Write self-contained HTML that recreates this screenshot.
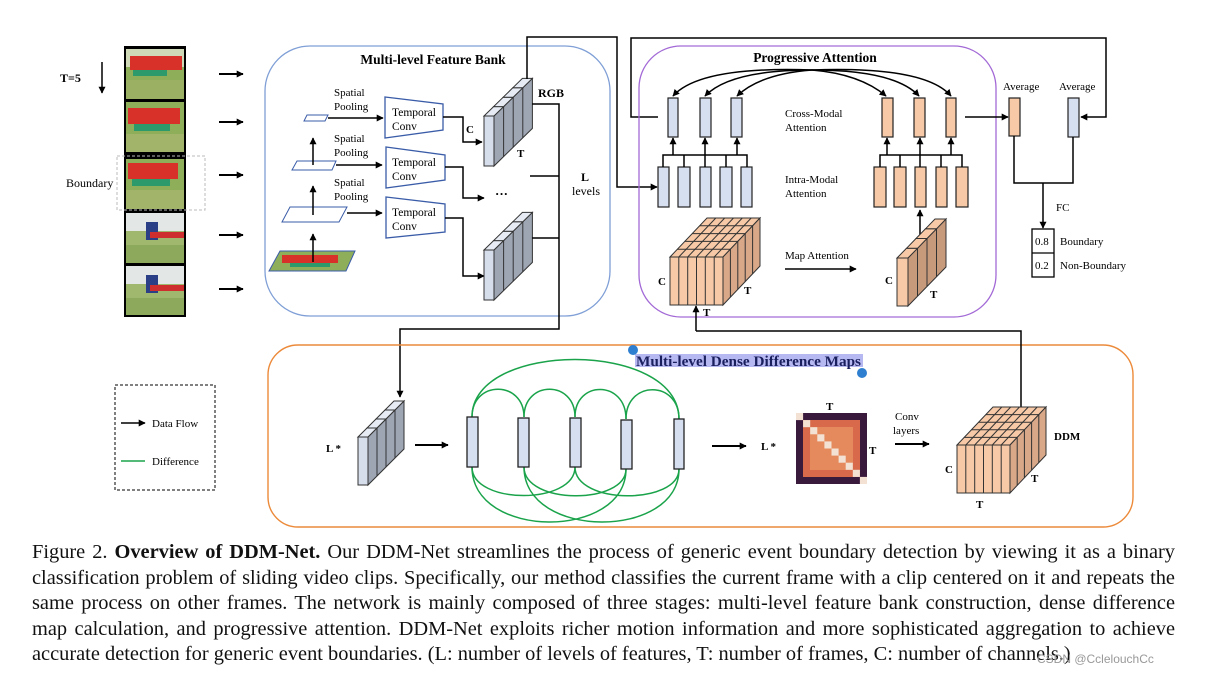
<!DOCTYPE html>
<html><head><meta charset="utf-8"><style>
body{margin:0;background:#fff;}
#w{position:relative;width:1206px;height:676px;overflow:hidden;background:#fff;}
svg{position:absolute;left:0;top:0;}
svg text{font-family:"Liberation Serif",serif;}
.cap{position:absolute;left:32px;width:1143px;font-family:"Liberation Serif",serif;font-size:20.4px;line-height:24px;color:#111;text-align:justify;text-align-last:justify;white-space:nowrap;}
.cap.l{text-align-last:left;}
</style></head><body><div id="w">
<svg width="1206" height="676" viewBox="0 0 1206 676">
<defs>
<marker id="a" viewBox="0 0 10 10" refX="9" refY="5" markerWidth="7" markerHeight="7" markerUnits="userSpaceOnUse" orient="auto"><path d="M0,0L10,5L0,10z" fill="#000"/></marker>
</defs>

<!-- frames -->
<rect x="124" y="46" width="62" height="271" fill="#000"/>
<g>
<rect x="126" y="49" width="58" height="50" fill="#8fae5a"/><rect x="126" y="49" width="58" height="18" fill="#cfd9b8"/><rect x="130" y="56" width="52" height="14" fill="#d8312a"/><rect x="133" y="70" width="34" height="6" fill="#2c9a6a"/><rect x="126" y="80" width="58" height="19" fill="#9cb064"/>
<rect x="126" y="102" width="58" height="50" fill="#8fae5a"/><rect x="128" y="108" width="52" height="16" fill="#d8312a"/><rect x="134" y="124" width="36" height="7" fill="#2c9a6a"/><rect x="126" y="134" width="58" height="18" fill="#a2b46a"/>
<rect x="126" y="159" width="58" height="50" fill="#8fae5a"/><rect x="128" y="163" width="50" height="16" fill="#d8312a"/><rect x="132" y="179" width="38" height="7" fill="#2c9a6a"/><rect x="126" y="190" width="58" height="19" fill="#a2b46a"/>
<rect x="126" y="213" width="58" height="50" fill="#9fb86e"/><rect x="126" y="213" width="58" height="18" fill="#e3e8e6"/><rect x="146" y="222" width="12" height="18" fill="#2a3f86"/><rect x="150" y="232" width="34" height="6" fill="#cf2e2e"/><rect x="126" y="245" width="58" height="18" fill="#8daa5c"/>
<rect x="126" y="266" width="58" height="49" fill="#9fb86e"/><rect x="126" y="266" width="58" height="18" fill="#e3e8e6"/><rect x="146" y="275" width="12" height="18" fill="#2a3f86"/><rect x="150" y="285" width="34" height="6" fill="#cf2e2e"/><rect x="126" y="298" width="58" height="17" fill="#8daa5c"/>
</g>
<rect x="117" y="156" width="88" height="54" fill="none" stroke="#bbb" stroke-dasharray="3,2"/>
<text x="60" y="82" font-size="12" font-weight="bold">T=5</text>
<line x1="102" y1="62" x2="102" y2="93" stroke="#000" stroke-width="1.5" marker-end="url(#a)"/>
<text x="66" y="187" font-size="12">Boundary</text>
<g stroke="#000" stroke-width="2" marker-end="url(#a)">
<line x1="219" y1="74" x2="243" y2="74"/><line x1="219" y1="122" x2="243" y2="122"/><line x1="219" y1="175" x2="243" y2="175"/><line x1="219" y1="235" x2="243" y2="235"/><line x1="219" y1="289" x2="243" y2="289"/>
</g>

<!-- feature bank -->
<rect x="265" y="46" width="345" height="270" rx="45" fill="none" stroke="#7f9fd6" stroke-width="1.3"/>
<text x="433" y="64" font-size="13.5" font-weight="bold" text-anchor="middle">Multi-level Feature Bank</text>
<g fill="#fff" stroke="#3a5ca8" stroke-width="1">
<polygon points="307,115 328,115 325,121 304,121"/>
<polygon points="297,161 336,161 332,170 292,170"/>
<polygon points="290,207 347,207 339,222 282,222"/>
</g>
<polygon points="280,251 355,251 346,271 269,271" fill="#8fae5a" stroke="#3a5ca8"/>
<rect x="282" y="255" width="56" height="8" fill="#d8312a"/><rect x="290" y="263" width="40" height="4" fill="#2c9a6a"/>
<g stroke="#000" stroke-width="1.5" marker-end="url(#a)">
<line x1="313" y1="262" x2="313" y2="234"/><line x1="313" y1="215" x2="313" y2="186"/><line x1="313" y1="165" x2="313" y2="138"/>
<line x1="328" y1="118" x2="383" y2="118"/><line x1="336" y1="165" x2="382" y2="165"/><line x1="347" y1="213" x2="382" y2="213"/>
</g>
<g font-size="11"><text x="334" y="96">Spatial</text><text x="334" y="110">Pooling</text><text x="334" y="142">Spatial</text><text x="334" y="156">Pooling</text><text x="334" y="186">Spatial</text><text x="334" y="200">Pooling</text></g>
<g fill="#fff" stroke="#3a5ca8" stroke-width="1.3">
<polygon points="385,97 443,104 443,130 385,138"/>
<polygon points="386,147 445,155 445,180 386,188"/>
<polygon points="386,197 445,204 445,232 386,238"/>
</g>
<g font-size="11.5"><text x="392" y="116">Temporal</text><text x="392" y="130">Conv</text><text x="392" y="166">Temporal</text><text x="392" y="180">Conv</text><text x="392" y="216">Temporal</text><text x="392" y="230">Conv</text></g>
<g fill="none" stroke="#000" stroke-width="1.5">
<polyline points="443,117 463,117 463,142 482,142" marker-end="url(#a)"/>
<polyline points="445,167 463,167 463,198 484,198" marker-end="url(#a)"/>
<polyline points="445,218 463,218 463,276 484,276" marker-end="url(#a)"/>
</g>
<text x="466" y="133" font-size="11" font-weight="bold">C</text>
<text x="495" y="198" font-size="13" font-weight="bold">···</text>
<!-- RGB stack -->
<g stroke="#333" stroke-width="1">
<polygon points="494,116 532.4,78.4 532.4,128.4 494,166" fill="#9ea6b4"/>
<line x1="503.6" y1="106.6" x2="503.6" y2="156.6"/><line x1="513.2" y1="97.2" x2="513.2" y2="147.2"/><line x1="522.8" y1="87.8" x2="522.8" y2="137.8"/>
<rect x="484" y="116" width="10" height="50" fill="#d7deeb"/>
<polygon points="484,116 493.6,106.6 503.6,106.6 494,116" fill="#e6ebf4"/>
<polygon points="493.6,106.6 503.2,97.2 513.2,97.2 503.6,106.6" fill="#e6ebf4"/>
<polygon points="503.2,97.2 512.8,87.8 522.8,87.8 513.2,97.2" fill="#e6ebf4"/>
<polygon points="512.8,87.8 522.4,78.4 532.4,78.4 522.8,87.8" fill="#e6ebf4"/>
</g>
<!-- second stack -->
<g stroke="#333" stroke-width="1">
<polygon points="494,250 532.4,212.4 532.4,262.4 494,300" fill="#9ea6b4"/>
<line x1="503.6" y1="240.6" x2="503.6" y2="290.6"/><line x1="513.2" y1="231.2" x2="513.2" y2="281.2"/><line x1="522.8" y1="221.8" x2="522.8" y2="271.8"/>
<rect x="484" y="250" width="10" height="50" fill="#d7deeb"/>
<polygon points="484,250 493.6,240.6 503.6,240.6 494,250" fill="#e6ebf4"/>
<polygon points="493.6,240.6 503.2,231.2 513.2,231.2 503.6,240.6" fill="#e6ebf4"/>
<polygon points="503.2,231.2 512.8,221.8 522.8,221.8 513.2,231.2" fill="#e6ebf4"/>
<polygon points="512.8,221.8 522.4,212.4 532.4,212.4 522.8,221.8" fill="#e6ebf4"/>
</g>
<text x="517" y="157" font-size="11" font-weight="bold">T</text>
<text x="538" y="97" font-size="12" font-weight="bold">RGB</text>
<text x="581" y="181" font-size="12" font-weight="bold">L</text>
<text x="572" y="195" font-size="12">levels</text>
<g fill="none" stroke="#000" stroke-width="1.5">
<polyline points="532,104 559,104 559,329 400,329 400,397" marker-end="url(#a)"/>
<line x1="530" y1="176" x2="559" y2="176"/>
<line x1="532" y1="238" x2="559" y2="238"/>
<polyline points="527,79 527,37 617,37 617,187 657,187" marker-end="url(#a)"/>
<polyline points="658,117 631,117 631,38 1106,38 1106,117 1081,117" marker-end="url(#a)"/>
</g>

<!-- progressive attention -->
<rect x="639" y="46" width="357" height="271" rx="42" fill="none" stroke="#a36ad6" stroke-width="1.3"/>
<text x="815" y="62" font-size="13.5" font-weight="bold" text-anchor="middle">Progressive Attention</text>
<g fill="none" stroke="#000" stroke-width="1.5" marker-end="url(#a)">
<path d="M812,70 Q700,66 673,96"/><path d="M812,70 Q730,70 705,96"/><path d="M812,70 Q760,74 737,96"/>
<path d="M812,70 Q860,74 886,96"/><path d="M812,70 Q895,70 919,96"/><path d="M812,70 Q925,66 951,96"/>
</g>
<g stroke="#222" stroke-width="1.2" fill="#d6dff0">
<rect x="668" y="98" width="10" height="39"/><rect x="700" y="98" width="11" height="39"/><rect x="731" y="98" width="11" height="39"/>
<rect x="658" y="167" width="11" height="40"/><rect x="678" y="167" width="12" height="40"/><rect x="700" y="167" width="11" height="40"/><rect x="720" y="167" width="12" height="40"/><rect x="741" y="167" width="11" height="40"/>
<rect x="1068" y="98" width="11" height="39"/>
</g>
<g stroke="#222" stroke-width="1.2" fill="#f7c9a6">
<rect x="882" y="98" width="11" height="39"/><rect x="914" y="98" width="11" height="39"/><rect x="946" y="98" width="10" height="39"/>
<rect x="874" y="167" width="12" height="40"/><rect x="894" y="167" width="12" height="40"/><rect x="915" y="167" width="11" height="40"/><rect x="936" y="167" width="11" height="40"/><rect x="956" y="167" width="12" height="40"/>
<rect x="1009" y="98" width="11" height="38"/>
</g>
<g fill="none" stroke="#000" stroke-width="1.5">
<polyline points="663,167 663,155 747,155 747,167"/><line x1="684" y1="155" x2="684" y2="167"/><line x1="705" y1="155" x2="705" y2="167"/><line x1="726" y1="155" x2="726" y2="167"/>
<polyline points="880,167 880,155 962,155 962,167"/><line x1="900" y1="155" x2="900" y2="167"/><line x1="920" y1="155" x2="920" y2="167"/><line x1="941" y1="155" x2="941" y2="167"/>
</g>
<g stroke="#000" stroke-width="1.5" marker-end="url(#a)">
<line x1="673" y1="155" x2="673" y2="138"/><line x1="705" y1="155" x2="705" y2="138"/><line x1="737" y1="155" x2="737" y2="138"/>
<line x1="887" y1="155" x2="887" y2="138"/><line x1="920" y1="155" x2="920" y2="138"/><line x1="951" y1="155" x2="951" y2="138"/>
<line x1="965" y1="117" x2="1008" y2="117"/>
<line x1="785" y1="269" x2="856" y2="269"/>
<line x1="920" y1="238" x2="920" y2="210"/>
<line x1="696" y1="331" x2="696" y2="306"/>
</g>
<g font-size="11"><text x="785" y="117">Cross-Modal</text><text x="785" y="131">Attention</text><text x="785" y="183">Intra-Modal</text><text x="785" y="197">Attention</text><text x="785" y="259">Map Attention</text></g>
<!-- big cube -->
<g stroke="#333" stroke-width="1">
<polygon points="670,257 707,218 760,218 723,257" fill="#f7c9a6"/>
<polygon points="723,257 760,218 760,266 723,305" fill="#d9a889"/>
<rect x="670" y="257" width="53" height="48" fill="#f7c9a6"/>
<line x1="678.8" y1="257" x2="715.8" y2="218"/><line x1="687.7" y1="257" x2="724.7" y2="218"/><line x1="696.5" y1="257" x2="733.5" y2="218"/><line x1="705.3" y1="257" x2="742.3" y2="218"/><line x1="714.2" y1="257" x2="751.2" y2="218"/>
<line x1="677.4" y1="249.2" x2="730.4" y2="249.2"/><line x1="684.8" y1="241.4" x2="737.8" y2="241.4"/><line x1="692.2" y1="233.6" x2="745.2" y2="233.6"/><line x1="699.6" y1="225.8" x2="752.6" y2="225.8"/>
<line x1="730.4" y1="249.2" x2="730.4" y2="297.2"/><line x1="737.8" y1="241.4" x2="737.8" y2="289.4"/><line x1="745.2" y1="233.6" x2="745.2" y2="281.6"/><line x1="752.6" y1="225.8" x2="752.6" y2="273.8"/>
<line x1="678.8" y1="257" x2="678.8" y2="305"/><line x1="687.7" y1="257" x2="687.7" y2="305"/><line x1="696.5" y1="257" x2="696.5" y2="305"/><line x1="705.3" y1="257" x2="705.3" y2="305"/><line x1="714.2" y1="257" x2="714.2" y2="305"/>
</g>
<g font-size="11" font-weight="bold"><text x="658" y="285">C</text><text x="744" y="294">T</text><text x="703" y="316">T</text><text x="885" y="284">C</text><text x="930" y="298">T</text></g>
<!-- small orange stack -->
<g stroke="#333" stroke-width="1">
<polygon points="908,258 946,219 946,267 908,306" fill="#c89a7c"/>
<line x1="917.5" y1="248.3" x2="917.5" y2="296.3"/><line x1="927" y1="238.5" x2="927" y2="286.5"/><line x1="936.5" y1="228.8" x2="936.5" y2="276.8"/>
<rect x="897" y="258" width="11" height="48" fill="#f7c9a6"/>
<polygon points="897,258 906.5,248.3 917.5,248.3 908,258" fill="#f7c9a6"/>
<polygon points="906.5,248.3 916,238.5 927,238.5 917.5,248.3" fill="#f7c9a6"/>
<polygon points="916,238.5 925.5,228.8 936.5,228.8 927,238.5" fill="#f7c9a6"/>
<polygon points="925.5,228.8 935,219 946,219 936.5,228.8" fill="#f7c9a6"/>
</g>
<text x="1003" y="90" font-size="11">Average</text><text x="1059" y="90" font-size="11">Average</text>
<g fill="none" stroke="#000" stroke-width="1.5">
<polyline points="1014,136 1014,183 1073,183 1073,137"/>
<line x1="1043" y1="183" x2="1043" y2="228" marker-end="url(#a)"/>
</g>
<text x="1056" y="211" font-size="11">FC</text>
<rect x="1032" y="229" width="22" height="48" fill="#fff" stroke="#000" stroke-width="1.3"/>
<line x1="1032" y1="253" x2="1054" y2="253" stroke="#000" stroke-width="1.3"/>
<g font-size="11"><text x="1035" y="245">0.8</text><text x="1035" y="269">0.2</text><text x="1060" y="245">Boundary</text><text x="1060" y="269">Non-Boundary</text></g>

<!-- DDM section -->
<rect x="268" y="345" width="865" height="182" rx="30" fill="none" stroke="#ec8a3a" stroke-width="1.4"/>
<polyline points="696,331 1021,331 1021,408" fill="none" stroke="#000" stroke-width="1.5"/>
<rect x="635" y="354" width="228" height="13" fill="#b6b8f2"/>
<text x="636" y="366" font-size="14.6" font-weight="bold" fill="#1a1f5e" textLength="225" lengthAdjust="spacingAndGlyphs">Multi-level Dense Difference Maps</text>
<circle cx="633" cy="350" r="5" fill="#2f7fd0"/><circle cx="862" cy="373" r="5" fill="#2f7fd0"/>
<!-- L* stack -->
<g stroke="#333" stroke-width="1">
<polygon points="368,437 404,401 404,449 368,485" fill="#9ea6b4"/>
<line x1="377" y1="428" x2="377" y2="476"/><line x1="386" y1="419" x2="386" y2="467"/><line x1="395" y1="410" x2="395" y2="458"/>
<rect x="358" y="437" width="10" height="48" fill="#d7deeb"/>
<polygon points="358,437 367,428 377,428 368,437" fill="#e6ebf4"/>
<polygon points="367,428 376,419 386,419 377,428" fill="#e6ebf4"/>
<polygon points="376,419 385,410 395,410 386,419" fill="#e6ebf4"/>
<polygon points="385,410 394,401 404,401 395,410" fill="#e6ebf4"/>
</g>
<text x="326" y="452" font-size="11" font-weight="bold">L *</text>
<g stroke="#000" stroke-width="2" marker-end="url(#a)">
<line x1="415" y1="445" x2="448" y2="445"/><line x1="712" y1="446" x2="746" y2="446"/><line x1="895" y1="444" x2="929" y2="444"/>
</g>
<g fill="none" stroke="#1aa34a" stroke-width="1.5">
<path d="M472,417 C472,340 679,340 679,419"/>
<path d="M472,417 C472,380 524,380 524,417"/><path d="M524,417 C524,380 575,380 575,417"/><path d="M575,417 C575,380 626,380 626,419"/><path d="M626,419 C626,380 679,380 679,419"/>
<path d="M472,467 C472,505 575,505 575,467"/><path d="M524,467 C524,505 626,505 626,469"/><path d="M575,467 C575,505 679,505 679,469"/>
<path d="M472,467 C472,540 626,540 626,469"/><path d="M524,467 C524,540 679,540 679,469"/>
</g>
<g stroke="#222" stroke-width="1.3" fill="#d6dff0">
<rect x="467" y="417" width="11" height="50"/><rect x="518" y="418" width="11" height="49"/><rect x="570" y="418" width="11" height="49"/><rect x="621" y="420" width="11" height="49"/><rect x="674" y="419" width="10" height="50"/>
</g>
<text x="761" y="450" font-size="11" font-weight="bold">L *</text>
<!-- heatmap -->
<rect x="796" y="413" width="71" height="71" fill="#3a1a3c"/>
<rect x="803" y="420" width="57" height="57" fill="#d8694a"/>
<rect x="810" y="427" width="43" height="43" fill="#e58a5c"/>
<g fill="#f3e2d4">
<rect x="796" y="413" width="7.1" height="7.1"/><rect x="803.1" y="420.1" width="7.1" height="7.1"/><rect x="810.2" y="427.2" width="7.1" height="7.1"/><rect x="817.3" y="434.3" width="7.1" height="7.1"/><rect x="824.4" y="441.4" width="7.1" height="7.1"/><rect x="831.5" y="448.5" width="7.1" height="7.1"/><rect x="838.6" y="455.6" width="7.1" height="7.1"/><rect x="845.7" y="462.7" width="7.1" height="7.1"/><rect x="852.8" y="469.8" width="7.1" height="7.1"/><rect x="859.9" y="476.9" width="7.1" height="7.1"/>
</g>
<text x="826" y="410" font-size="11" font-weight="bold">T</text>
<text x="869" y="454" font-size="11" font-weight="bold">T</text>
<text x="895" y="420" font-size="11">Conv</text><text x="893" y="434" font-size="11">layers</text>
<!-- DDM cube -->
<g stroke="#333" stroke-width="1">
<polygon points="957,445 993,407 1046,407 1010,445" fill="#f7c9a6"/>
<polygon points="1010,445 1046,407 1046,455 1010,493" fill="#d9a889"/>
<rect x="957" y="445" width="53" height="48" fill="#f7c9a6"/>
<line x1="965.8" y1="445" x2="1001.8" y2="407"/><line x1="974.7" y1="445" x2="1010.7" y2="407"/><line x1="983.5" y1="445" x2="1019.5" y2="407"/><line x1="992.3" y1="445" x2="1028.3" y2="407"/><line x1="1001.2" y1="445" x2="1037.2" y2="407"/>
<line x1="964.2" y1="437.4" x2="1017.2" y2="437.4"/><line x1="971.4" y1="429.8" x2="1024.4" y2="429.8"/><line x1="978.6" y1="422.2" x2="1031.6" y2="422.2"/><line x1="985.8" y1="414.6" x2="1038.8" y2="414.6"/>
<line x1="1017.2" y1="437.4" x2="1017.2" y2="485.4"/><line x1="1024.4" y1="429.8" x2="1024.4" y2="477.8"/><line x1="1031.6" y1="422.2" x2="1031.6" y2="470.2"/><line x1="1038.8" y1="414.6" x2="1038.8" y2="462.6"/>
<line x1="965.8" y1="445" x2="965.8" y2="493"/><line x1="974.7" y1="445" x2="974.7" y2="493"/><line x1="983.5" y1="445" x2="983.5" y2="493"/><line x1="992.3" y1="445" x2="992.3" y2="493"/><line x1="1001.2" y1="445" x2="1001.2" y2="493"/>
</g>
<g font-size="11" font-weight="bold"><text x="1054" y="440">DDM</text><text x="945" y="473">C</text><text x="1031" y="482">T</text><text x="976" y="508">T</text></g>

<!-- legend -->
<rect x="115" y="385" width="100" height="105" fill="none" stroke="#000" stroke-dasharray="3,2"/>
<line x1="121" y1="423" x2="145" y2="423" stroke="#000" stroke-width="1.5" marker-end="url(#a)"/>
<text x="152" y="427" font-size="11">Data Flow</text>
<line x1="121" y1="461" x2="145" y2="461" stroke="#1aa34a" stroke-width="1.5"/>
<text x="152" y="465" font-size="11">Difference</text>
</svg>
<div class="cap" style="top:540px">Figure 2. <b>Overview of DDM-Net.</b> Our DDM-Net streamlines the process of generic event boundary detection by viewing it as a binary</div>
<div class="cap" style="top:566px">classification problem of sliding video clips. Specifically, our method classifies the current frame with a clip centered on it and repeats the</div>
<div class="cap" style="top:591px">same process on other frames. The network is mainly composed of three stages: multi-level feature bank construction, dense difference</div>
<div class="cap" style="top:617px">map calculation, and progressive attention. DDM-Net exploits richer motion information and more sophisticated aggregation to achieve</div>
<div class="cap l" style="top:642px">accurate detection for generic event boundaries. (L: number of levels of features, T: number of frames, C: number of channels.)</div>
<div style="position:absolute;left:1037px;top:652px;font-family:'Liberation Sans',sans-serif;font-size:12px;color:#999">CSDN @CclelouchCc</div>
</div></body></html>
